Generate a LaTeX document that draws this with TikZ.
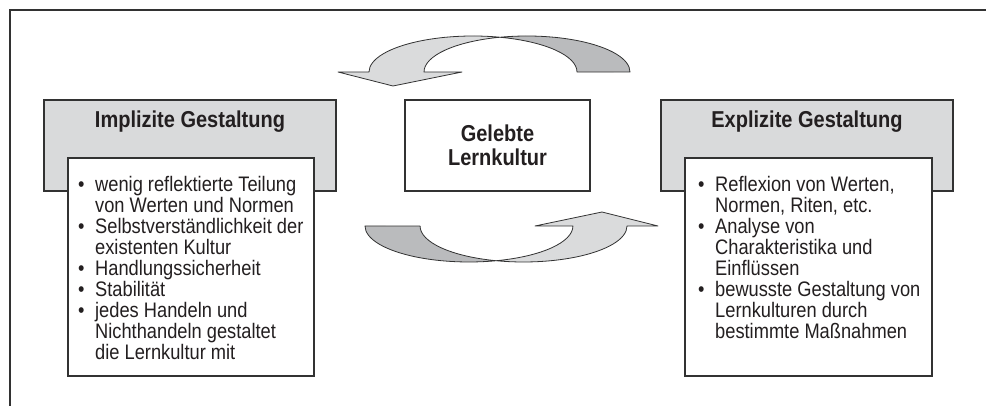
\documentclass[tikz,border=0pt]{standalone}
\usepackage{fontspec}
\setmainfont{Liberation Sans}[FakeStretch=0.87]
\usepackage{tikz}
\usetikzlibrary{calc}

\definecolor{boxgray}{RGB}{217,218,219}
\definecolor{arrowlight}{RGB}{218,219,220}
\definecolor{arrowdark}{RGB}{186,187,189}
\definecolor{linegray}{RGB}{50,50,50}
\definecolor{textblack}{RGB}{35,31,32}

\tikzset{
    box/.style={draw=linegray, line width=1.1pt},
    band/.style={draw=linegray, line width=0.8pt, line join=round},
    headtext/.style={font=\fontsize{23}{24}\selectfont\bfseries, text=textblack, align=center},
    listtext/.style={font=\fontsize{21}{21}\selectfont, text=textblack, align=left, inner sep=0pt}
}
\newcommand{\bul}{\makebox[17pt][l]{\textbullet}}
\newcommand{\ind}{\hspace*{17pt}}

\begin{document}
\begin{tikzpicture}[x=1pt,y=1pt]
        \useasboundingbox (0,0) rectangle (986,406);
        \draw[linegray, line width=1.2pt] (10,0) -- (10,396) -- (986,396);

        \filldraw[box, fill=boxgray] (44,215) rectangle (336,306);
        \filldraw[box, fill=white] (68,30) rectangle (314,248);
        \filldraw[box, fill=white] (405,215) rectangle (590,306);
        \filldraw[box, fill=boxgray] (661,215) rectangle (953,306);
        \filldraw[box, fill=white] (685,30) rectangle (932,248);

        \filldraw[band, fill=arrowlight] (369,334) arc[start angle=180, end angle=74.95, x radius=104pt, y radius=36pt]
            arc[start angle=105.2, end angle=180, x radius=103pt, y radius=36pt] -- (462,334) -- (393,320) -- (338,334) -- cycle;
        \filldraw[band, fill=arrowdark] (630,334) arc[start angle=0, end angle=105.2, x radius=103pt, y radius=36pt]
            arc[start angle=74.95, end angle=0, x radius=104pt, y radius=36pt] -- cycle;

        \filldraw[band, fill=arrowdark] (365,180) arc[start angle=180, end angle=285.2, x radius=104pt, y radius=36pt]
            arc[start angle=254.7, end angle=180, x radius=103.5pt, y radius=36pt] -- cycle;
        \filldraw[band, fill=arrowlight] (627,180) arc[start angle=360, end angle=254.7, x radius=103.5pt, y radius=36pt]
            arc[start angle=285.2, end angle=360, x radius=104pt, y radius=36pt] -- (535,180) -- (602,194) -- (658,180) -- cycle;

        \node[headtext, anchor=base] (impltitle) at (190,278) {Implizite Gestaltung};
        \node[headtext] (gelebt) at (497.5,260.5) {Gelebte\\Lernkultur};
        \node[headtext, anchor=base] (expltitle) at (807,278) {Explizite Gestaltung};

        \node[listtext, anchor=north west] (impllist) at (78,230) {\bul wenig reflektierte Teilung\\ \ind von Werten und Normen\\
            \bul Selbstverständlichkeit der\\ \ind existenten Kultur\\ \bul Handlungssicherheit\\ \bul Stabilität\\
            \bul jedes Handeln und\\ \ind Nichthandeln gestaltet\\ \ind die Lernkultur mit};
        \node[listtext, anchor=north west] (expllist) at (698,230) {\bul Reflexion von Werten,\\ \ind Normen, Riten, etc.\\
            \bul Analyse von\\ \ind Charakteristika und\\ \ind Einflüssen\\
            \bul bewusste Gestaltung von\\ \ind Lernkulturen durch\\ \ind bestimmte Maßnahmen};
\end{tikzpicture}
\end{document}
